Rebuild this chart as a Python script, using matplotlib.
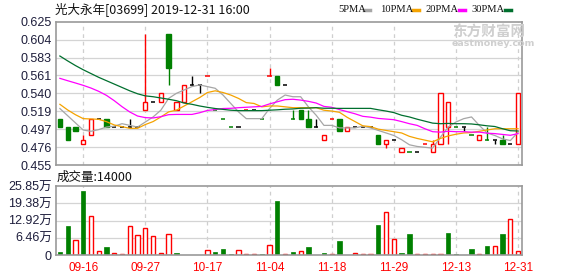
import matplotlib
matplotlib.use('Agg')
import matplotlib.pyplot as plt
import numpy as np
from matplotlib.patches import Rectangle

plt.rcParams['font.family'] = ['Liberation Sans', 'Noto Sans CJK SC', 'DejaVu Sans']

# ---------------- data ----------------
title = '光大永年[03699] 2019-12-31 16:00'
tick_idx = [3, 11, 19, 27, 35, 43, 51, 59]
tick_labels = ['09-16', '09-27', '10-17', '11-04', '11-18', '11-29', '12-13', '12-31']

opens = [0.51, 0.50, 0.50, 0.48, 0.49, 0.51, 0.51, 0.50, 0.50, 0.50,
         0.50, 0.52, 0.53, 0.53, 0.61, 0.52, 0.53, 0.55, 0.55, 0.56,
         0.52, 0.51, 0.50, 0.50, 0.52, 0.52, 0.51, 0.56, 0.56, 0.55,
         0.51, 0.52, 0.51, 0.50, 0.485, 0.51, 0.51, 0.495, 0.50, 0.50,
         0.50, 0.49, 0.48, 0.485, 0.47, 0.47, 0.47, 0.48, 0.47, 0.48,
         0.50, 0.50, 0.50, 0.49, 0.485, 0.485, 0.485, 0.485, 0.48, 0.48]
highs = [0.51, 0.50, 0.50, 0.49, 0.51, 0.51, 0.51, 0.50, 0.50, 0.51,
         0.50, 0.61, 0.53, 0.54, 0.61, 0.53, 0.55, 0.56, 0.55, 0.56,
         0.52, 0.51, 0.50, 0.50, 0.52, 0.52, 0.51, 0.57, 0.56, 0.55,
         0.52, 0.52, 0.52, 0.51, 0.49, 0.51, 0.51, 0.50, 0.50, 0.50,
         0.50, 0.49, 0.485, 0.485, 0.475, 0.47, 0.47, 0.48, 0.485, 0.54,
         0.53, 0.50, 0.50, 0.49, 0.49, 0.50, 0.485, 0.49, 0.48, 0.54]
lows = [0.50, 0.485, 0.495, 0.48, 0.49, 0.51, 0.50, 0.50, 0.50, 0.50,
        0.50, 0.52, 0.53, 0.53, 0.55, 0.52, 0.53, 0.55, 0.54, 0.56,
        0.52, 0.51, 0.50, 0.50, 0.52, 0.52, 0.51, 0.56, 0.55, 0.55,
        0.51, 0.51, 0.50, 0.50, 0.485, 0.51, 0.495, 0.495, 0.50, 0.50,
        0.50, 0.48, 0.475, 0.485, 0.47, 0.47, 0.47, 0.48, 0.47, 0.48,
        0.48, 0.50, 0.495, 0.49, 0.485, 0.485, 0.48, 0.48, 0.48, 0.48]
closes = [0.50, 0.485, 0.495, 0.485, 0.51, 0.51, 0.50, 0.50, 0.50, 0.50,
          0.50, 0.53, 0.53, 0.54, 0.57, 0.53, 0.55, 0.55, 0.55, 0.56,
          0.52, 0.51, 0.50, 0.50, 0.52, 0.52, 0.51, 0.56, 0.55, 0.55,
          0.51, 0.51, 0.50, 0.50, 0.49, 0.51, 0.495, 0.50, 0.50, 0.50,
          0.50, 0.48, 0.485, 0.485, 0.475, 0.47, 0.47, 0.48, 0.48, 0.54,
          0.53, 0.50, 0.50, 0.49, 0.49, 0.485, 0.485, 0.48, 0.48, 0.54]
prev_close = 0.51  # close of the day before the first bar

# volume in 万 shares
volumes = [1.1, 10.9, 5.5, 24.0, 14.6, 1.5, 3.0, 0.75, 0.3, 10.9,
           7.5, 10.1, 7.1, 0.75, 7.9, 0.9, 0, 0, 0, 1.7,
           1.1, 2.2, 0.4, 1.7, 0.4, 0.4, 0.4, 3.7, 20.2, 0.4,
           1.1, 1.5, 3.0, 0, 0.75, 0.4, 5.2, 0, 0.75, 0.4,
           0.4, 11.2, 16.1, 6.0, 0.75, 7.9, 0.4, 0.4, 0.4, 0.4,
           8.2, 0.4, 0, 2.2, 0.4, 3.4, 3.4, 7.9, 13.5, 1.4]
last_volume_label = '成交量:14000'

ma5_head = [0.522, 0.5135, 0.505, 0.4965]
ma10_head = [0.527, 0.5203, 0.5147, 0.510, 0.5096, 0.5092, 0.5064, 0.5025, 0.5005]
ma20_head = [0.5578, 0.555, 0.5523, 0.5495, 0.5463, 0.5424, 0.5376, 0.5313, 0.5242,
             0.5179, 0.5131, 0.5112, 0.5108, 0.5123, 0.5147, 0.515, 0.515, 0.515, 0.517]
ma30_head = [0.5843, 0.5785, 0.573, 0.568, 0.5635, 0.559, 0.555, 0.551, 0.547, 0.543,
             0.5395, 0.537, 0.536, 0.5345, 0.533, 0.5313, 0.5285, 0.527, 0.525, 0.5234,
             0.522, 0.521, 0.520, 0.5195, 0.5195, 0.5195, 0.5195, 0.520, 0.5205]

price_tick_labels = ['0.455', '0.476', '0.497', '0.519', '0.540', '0.561', '0.583', '0.604', '0.625']
price_min, price_max = 0.455, 0.625
vol_tick_labels = ['0', '6.46万', '12.92万', '19.38万', '25.85万']
vol_max = 25.85

# ---------------- helpers ----------------
RED = '#ff0000'
GREEN = '#008000'
n = len(closes)
x = np.arange(n)


def moving_average(head, k):
    out = []
    for i in range(n):
        if i >= k - 1:
            out.append(np.mean(closes[i - k + 1:i + 1]))
        else:
            out.append(head[i])
    return np.array(out)


ma5 = moving_average(ma5_head, 5)
ma10 = moving_average(ma10_head, 10)
ma20 = moving_average(ma20_head, 20)
ma30 = moving_average(ma30_head, 30)

W, H = 578, 276


def rect(l, t, r, b):
    return [l / W, 1 - b / H, (r - l) / W, (b - t) / H]


fig = plt.figure(figsize=(W / 100, H / 100), dpi=100)
fig.patch.set_facecolor('white')
axp = fig.add_axes(rect(56, 21.7, 522, 165))
axv = fig.add_axes(rect(56, 186, 522, 255))

for ax in (axp, axv):
    ax.set_xlim(-0.5, n - 0.5)
    for s in ax.spines.values():
        s.set_color('#999999')
        s.set_linewidth(1.2)
    ax.tick_params(length=0, pad=3)
    for t in tick_idx:
        ax.axvline(t, color='#cfcfcf', lw=0.9, ls=(0, (3, 3)), zorder=0)

# price grid
p_ticks = np.linspace(price_min, price_max, len(price_tick_labels))
axp.set_ylim(price_min, price_max)
axp.set_yticks(p_ticks)
axp.set_yticklabels(price_tick_labels, fontsize=9, color='#1e1e3c')
for v in p_ticks[1:-1]:
    axp.axhline(v, color='#d4d4d4', lw=0.9, zorder=0)
axp.set_xticks([])

w = 0.55
prev = prev_close
for i in range(n):
    o, h, l, c = opens[i], highs[i], lows[i], closes[i]
    if c > o:
        col = RED
    elif c < o:
        col = GREEN
    else:
        col = RED if c > prev else (GREEN if c < prev else 'black')
    top, bot = max(o, c), min(o, c)
    if h > top:
        axp.plot([i, i], [top, h], color=col, lw=1, zorder=2, solid_capstyle='butt')
    if l < bot:
        axp.plot([i, i], [l, bot], color=col, lw=1, zorder=2, solid_capstyle='butt')
    if c == o:
        axp.plot([i - w / 2, i + w / 2], [c, c], color=col, lw=1.1, zorder=2, solid_capstyle='butt')
    else:
        fc = 'white' if c > o else GREEN
        axp.add_patch(Rectangle((i - w / 2, bot), w, top - bot, facecolor=fc,
                                edgecolor=col, lw=1, zorder=2))
    prev = c

axp.plot(x, ma5, color='#a6a6a6', lw=0.9, zorder=3)
axp.plot(x, ma10, color='#f5a300', lw=0.9, zorder=3)
axp.plot(x, ma20, color='#ff00ff', lw=0.9, zorder=3)
axp.plot(x, ma30, color='#006f2e', lw=0.9, zorder=3)

# volume
v_ticks = np.linspace(0, vol_max, len(vol_tick_labels))
axv.set_ylim(0, vol_max)
axv.set_yticks(v_ticks)
axv.set_yticklabels(vol_tick_labels, fontsize=9, color='#1e1e3c')
for v in v_ticks[1:-1]:
    axv.axhline(v, color='#d4d4d4', lw=0.9, zorder=0)
axv.set_xticks(tick_idx)
axv.set_xticklabels(tick_labels, fontsize=8.5, color=RED)
axv.tick_params(axis='x', pad=5)

prev = prev_close
for i in range(n):
    c = closes[i]
    up = c >= prev
    if volumes[i] > 0:
        if up:
            axv.add_patch(Rectangle((i - w / 2, 0), w, volumes[i], facecolor='white',
                                    edgecolor=RED, lw=1, zorder=2))
        else:
            axv.add_patch(Rectangle((i - w / 2, 0), w, volumes[i], facecolor=GREEN,
                                    edgecolor=GREEN, lw=0.5, zorder=2))
    prev = c

# texts
def ft(xp, yp, s, **kw):
    fig.text(xp / W, 1 - yp / H, s, **kw)

ft(55, 9.5, title, fontsize=9, color='#111111', va='center', ha='left',
   family=['Noto Sans CJK SC'])
ft(57, 177, last_volume_label, fontsize=9, color='#111111', va='center', ha='left',
   family=['Noto Sans CJK SC'])

legend_items = [('5PMA', 338, 364, '#a6a6a6'), ('10PMA', 380, 413, '#f5a300'),
                ('20PMA', 425, 459, '#ff00ff'), ('30PMA', 471, 505, '#006f2e')]
for lab, xt, xd, colr in legend_items:
    ft(xt, 9.5, lab, fontsize=7.6, color='#111111', va='center', ha='left',
       family=['Liberation Serif'])
    fig.add_artist(plt.Line2D([xd / W, (xd + 6) / W], [1 - 9.5 / H, 1 - 9.5 / H],
                              color=colr, lw=2.5, transform=fig.transFigure))

# watermark
ft(452, 32, '东方财富网', fontsize=10.5, color='#cfcfcf', va='center', ha='left',
   family=['Noto Sans CJK SC'], fontweight='bold')
ft(452, 43, 'eastmoney.com', fontsize=6.8, color='#cfcfcf', va='center', ha='left',
   family=['DejaVu Sans'], fontweight='bold')

fig.savefig('out.png', dpi=100, facecolor='white')
